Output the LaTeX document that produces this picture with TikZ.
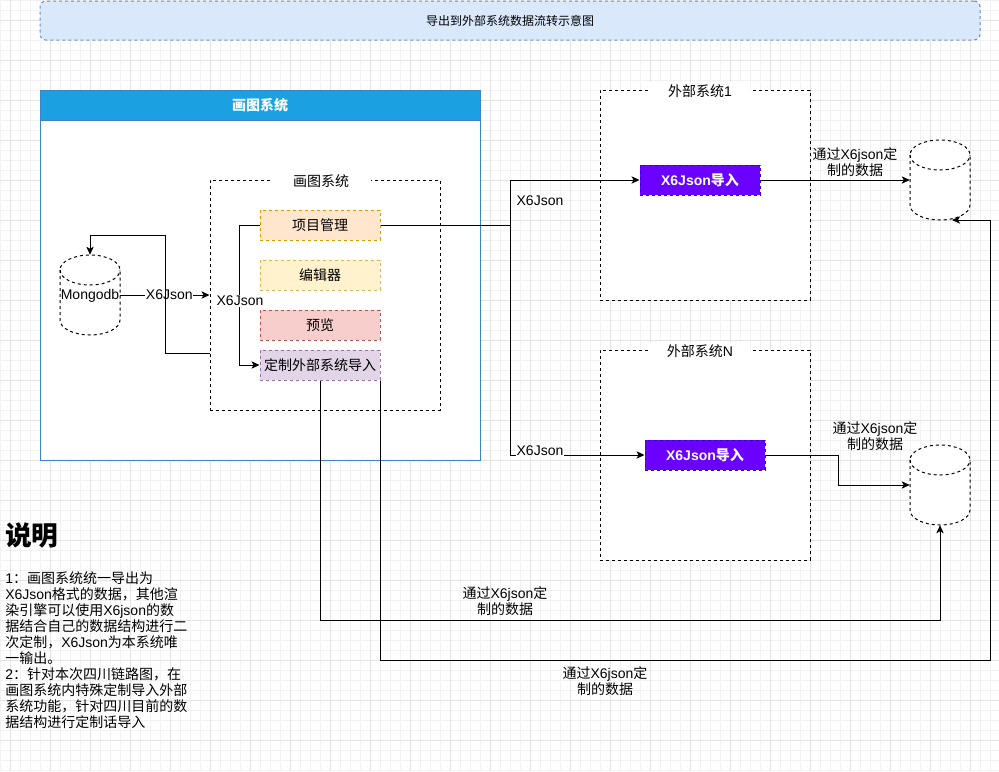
\documentclass[tikz,border=0pt]{standalone}
\usepackage{fontspec}
\setmainfont{Noto Sans CJK SC}
\newfontfamily\lat{Liberation Sans}
\usetikzlibrary{arrows.meta,positioning}

\definecolor{bannerfill}{HTML}{DAE8FC}
\definecolor{bannerline}{HTML}{6C8EBF}
\definecolor{headfill}{HTML}{1BA1E2}
\definecolor{headline}{HTML}{3C83C8}
\definecolor{pmfill}{HTML}{FFE6CC}
\definecolor{pmline}{HTML}{D79B00}
\definecolor{edfill}{HTML}{FFF2CC}
\definecolor{edline}{HTML}{D6B656}
\definecolor{pvfill}{HTML}{F8CECC}
\definecolor{pvline}{HTML}{B85450}
\definecolor{cufill}{HTML}{E1D5E7}
\definecolor{culine}{HTML}{9673A6}
\definecolor{impfill}{HTML}{6A00FF}
\definecolor{impline}{HTML}{3700CC}

% cylinder: name, x, y, text
\newcommand\dbcyl[4]{%
  \node[minimum width=45pt,minimum height=60pt] (#1) at (#2,#3) {};
  \draw[dbline,fill=white] (#2-30,#3-25) -- (#2-30,#3+25)
    arc[start angle=180,end angle=0,x radius=30,y radius=15] -- (#2+30,#3-25)
    arc[start angle=0,end angle=-180,x radius=30,y radius=15] -- cycle;
  \draw[dbline] (#2-30,#3-25) arc[start angle=180,end angle=0,x radius=30,y radius=15];
  \node (#1-text) at (#2,#3+1) {#4};}

\begin{document}
\begin{tikzpicture}[x=0.75pt,y=-0.75pt,
  every node/.style={inner sep=0pt,font=\fontsize{10.5}{12.6}\selectfont},
  minorgrid/.style={draw=black!5,line width=0.75pt},
  majorgrid/.style={draw=black!11,line width=0.75pt},
  ln/.style={draw=black,line width=0.75pt},
  flow/.style={ln,-{Stealth[length=6pt,width=5.5pt,inset=1.5pt]}},
  dbline/.style={draw=black,line width=0.75pt,dash pattern=on 2.25pt off 2.25pt},
  framebox/.style={dbline,fill=white,minimum width=157.5pt,minimum height=157.5pt},
  framelab/.style={fill=white,minimum width=75pt,minimum height=13pt},
  module/.style={line width=0.75pt,dash pattern=on 2.25pt off 2.25pt,minimum width=90pt,minimum height=22.5pt},
  importbox/.style={module,fill=impfill,draw=impline,text=white,font=\fontsize{10.5}{12.6}\selectfont\bfseries},
  edgelab/.style={fill=white,inner sep=0.5pt},
  note/.style={align=center,font=\fontsize{10.5}{12}\selectfont}]
\useasboundingbox (0,0) rectangle (999,771);
\fill[white] (0,0) rectangle (999,771);
% grid
\foreach \gx in {0,10,...,990} \draw[minorgrid] (\gx,0) -- (\gx,771);
\foreach \gy in {0,10,...,770} \draw[minorgrid] (0,\gy) -- (999,\gy);
\foreach \gx in {10,50,...,970} \draw[majorgrid] (\gx,0) -- (\gx,771);
\foreach \gy in {20,60,...,760} \draw[majorgrid] (0,\gy) -- (999,\gy);

% banner
\node[fill=bannerfill,draw=bannerline,line width=0.75pt,dash pattern=on 2.25pt off 2.25pt,
  rounded corners=4.5pt,minimum width=705pt,minimum height=29.25pt,
  font=\fontsize{9}{11}\selectfont] (title) at (510,20.5) {导出到外部系统数据流转示意图};

% drawing system
\node[fill=white,draw=headline,line width=0.75pt,minimum width=330pt,minimum height=277.5pt] (drawsys) at (260,275) {};
\node[fill=headfill,draw=headline,line width=0.75pt,minimum width=330pt,minimum height=22.5pt,
  text=white,font=\fontsize{10.5}{12.6}\selectfont\bfseries] (drawhead) at (260,105) {画图系统};
\node[dbline,fill=white,minimum width=172.5pt,minimum height=172.5pt] (core) at (325,295) {};
\node[framelab] (corelab) at (321,181) {画图系统};
\node[module,fill=pmfill,draw=pmline] (pm) at (320,225) {项目管理};
\node[module,fill=edfill,draw=edline] (ed) at (320,275) {编辑器};
\node[module,fill=pvfill,draw=pvline] (pv) at (320,325) {预览};
\node[module,fill=cufill,draw=culine] (cu) at (320,365) {定制外部系统导入};
\dbcyl{mongo}{90}{295}{\lat Mongodb}

% external systems
\node[framebox] (ext1) at (705,195) {};
\node[framelab] (ext1lab) at (700,91) {外部系统{\lat 1}};
\node[framebox] (extN) at (705,455) {};
\node[framelab] (extNlab) at (700,351) {外部系统{\lat N}};
\node[importbox] (imp1) at (700,180) {{\lat X6Json}导入};
\node[importbox] (impN) at (705,455) {{\lat X6Json}导入};
\dbcyl{cyl1}{940}{180}{}
\dbcyl{cylN}{940}{485}{}
\coordinate (cyl1in) at (952,220);

% connectors
\draw[flow] (mongo.east) -- (core.west |- mongo.east) node[edgelab,pos=0.55] (lab1) {\lat X6Json};
\draw[flow] (core.west |- 0,353) -- (165,353) -- (165,235) -- (mongo.north |- 0,235) -- (mongo.north);
\draw[flow] (pm.west) -- ++(-20,0) |- (cu.west);
\node[edgelab] (lab2) at (240,301) {\lat X6Json};
\draw[ln] (pm.east) -- (510,225) coordinate (fork);
\draw[flow] (fork) |- (imp1.west);
\draw[flow] (fork) |- (impN.west);
\node[edgelab] (lab3) at (540,201) {\lat X6Json};
\node[edgelab] (lab4) at (540,451) {\lat X6Json};
\draw[flow] (imp1.east) -- (cyl1.west);
\draw[flow] (impN.east) -- ++(73,0) |- (cylN.west);
\draw[flow] (cu.south) -- ++(0,240) -| (cylN.south);
\draw[flow] (cu.south east) -- ++(0,280) -| (990,220) -- (cyl1in);
\node[note] (lab5) at (855,162) {通过{\lat X6json}定\\制的数据};
\node[note] (lab6) at (875,436) {通过{\lat X6json}定\\制的数据};
\node[note] (lab7) at (505,601) {通过{\lat X6json}定\\制的数据};
\node[note] (lab8) at (605,681) {通过{\lat X6json}定\\制的数据};

% notes
\node[anchor=west,font=\fontsize{20}{24}\selectfont\bfseries] (notehead) at (5,535) {说明};
\node[anchor=north west,align=left,font=\fontsize{10.5}{12}\selectfont] (notebody) at (5,571) {%
{\lat 1}：画图系统统一导出为\\
{\lat X6Json}格式的数据，其他渲\\
染引擎可以使用{\lat X6json}的数\\
据结合自己的数据结构进行二\\
次定制，{\lat X6Json}为本系统唯\\
一输出。\\
{\lat 2}：针对本次四川链路图，在\\
画图系统内特殊定制导入外部\\
系统功能，针对四川目前的数\\
据结构进行定制话导入};
\end{tikzpicture}
\end{document}
